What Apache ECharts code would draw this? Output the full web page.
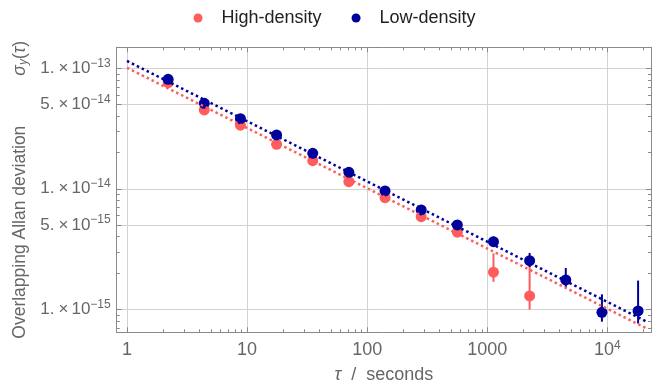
<!DOCTYPE html>
<html><head><meta charset="utf-8">
<script src="https://cdn.jsdelivr.net/npm/echarts@6/dist/echarts.min.js"></script>
<style>html,body{margin:0;padding:0;background:#fff}#c{width:652px;height:383px}</style>
</head><body><div id="c"></div>
<script>
// ---- data ----
const tau = [2.2, 4.4, 8.8, 17.6, 35.2, 70.4, 140.8, 281.6, 563, 1126, 2252, 4504, 9009, 18018];
const highDensity = [7.59e-14, 4.51e-14, 3.37e-14, 2.34e-14, 1.71e-14, 1.145e-14, 8.44e-15, 5.87e-15, 4.36e-15, 2.03e-15, 1.29e-15];
const lowDensity = [8.10e-14, 5.12e-14, 3.82e-14, 2.80e-14, 1.97e-14, 1.37e-14, 9.59e-15, 6.67e-15, 5.01e-15, 3.64e-15, 2.53e-15, 1.75e-15, 9.44e-16, 9.68e-16];
const highErrLow  = [null, null, null, null, null, null, null, null, null, 1.69e-15, 9.96e-16];
const highErrHigh = [null, null, null, null, null, null, null, null, null, 2.91e-15, 2.29e-15];
const lowErrLow  = [null, null, null, null, null, null, null, null, null, 3.29e-15, 2.24e-15, 1.53e-15, 7.89e-16, 7.62e-16];
const lowErrHigh = [null, null, null, null, null, null, null, null, null, 4.02e-15, 2.93e-15, 2.20e-15, 1.33e-15, 1.73e-15];
const fitTau = [1, 21000];
const highFit = [1.01e-13, 6.97e-16];
const lowFit = [1.15e-13, 7.94e-16];
// ---- ticks ----
const xMajor = [1, 10, 100, 1000, 10000];
const xMinor = [2,3,4,5,6,7,8,9,20,30,40,50,60,70,80,90,200,300,400,500,600,700,800,900,2000,3000,4000,5000,6000,7000,8000,9000,20000];
const yMajor = [1e-13, 5e-14, 1e-14, 5e-15, 1e-15];
const yMinor = [7e-16,8e-16,9e-16,2e-15,3e-15,4e-15,6e-15,7e-15,8e-15,9e-15,2e-14,3e-14,4e-14,6e-14,7e-14,8e-14,9e-14];

const RED = '#ff5c5c', BLUE = '#00009c';
const FRAME = '#8a8a8a', GRID = '#d2d2d2', LAB = '#666666';
const FONT = 'Liberation Sans, Arial, sans-serif';
const XMIN = 0.8208, XMAX = 23080, YMIN = 6.44e-16, YMAX = 1.493e-13;

function pairs(xs, ys) { return ys.map((v, i) => [xs[i], v]); }
function errData(xs, lo, hi) {
  const d = [];
  xs.forEach((t, i) => { if (lo[i] != null) d.push([t, lo[i], hi[i]]); });
  return d;
}
function errSeries(data, color, z) {
  return {
    type: 'custom', xAxisIndex: 0, yAxisIndex: 0, data: data, z: z, silent: true,
    encode: { x: 0, y: [1, 2] },
    renderItem: function (params, api) {
      const a = api.coord([api.value(0), api.value(1)]);
      const b = api.coord([api.value(0), api.value(2)]);
      return { type: 'line', shape: { x1: a[0], y1: a[1], x2: b[0], y2: b[1] }, style: { stroke: color, lineWidth: 2 } };
    }
  };
}
function xAx(pos, major, withLabel) {
  return {
    type: 'log', logBase: 10, min: XMIN, max: XMAX, position: pos, gridIndex: 0,
    axisLine: { show: major, lineStyle: { color: FRAME, width: 1 } },
    axisTick: { show: true, inside: true, length: major ? 5 : 3, customValues: major ? xMajor : xMinor, lineStyle: { color: FRAME } },
    axisLabel: withLabel ? {
      show: true, customValues: xMajor, margin: 7, color: LAB, fontFamily: FONT, fontSize: 18,
      formatter: function (v) { return v >= 10000 ? '{m|10}{e|' + Math.round(Math.log10(v)) + '}' : '{m|' + v + '}'; },
      rich: { m: { fontSize: 18, color: LAB, fontFamily: FONT, lineHeight: 22 }, e: { fontSize: 12, color: LAB, fontFamily: FONT, verticalAlign: 'top', lineHeight: 12 } }
    } : { show: false },
    splitLine: { show: withLabel, lineStyle: { color: GRID, width: 1 } },
    name: withLabel ? '{i|τ}{n|  /  seconds}' : '',
    nameLocation: 'middle', nameGap: 34,
    nameTextStyle: { color: LAB, fontFamily: FONT, fontSize: 18, rich: { i: { fontStyle: 'italic', fontSize: 18, color: LAB, fontFamily: FONT }, n: { fontSize: 18, color: LAB, fontFamily: FONT } } }
  };
}
function yAx(pos, major, withLabel) {
  return {
    type: 'log', logBase: 10, min: YMIN, max: YMAX, position: pos, gridIndex: 0,
    axisLine: { show: major, lineStyle: { color: FRAME, width: 1 } },
    axisTick: { show: true, inside: true, length: major ? 5 : 3, customValues: major ? yMajor : yMinor, lineStyle: { color: FRAME } },
    axisLabel: withLabel ? {
      show: true, customValues: yMajor, margin: 6, color: LAB, fontFamily: FONT,
      formatter: function (v) {
        const ex = Math.floor(Math.log10(v) + 1e-6);
        const m = Math.round(v / Math.pow(10, ex));
        return '{m|' + m + '.}{x|×}{m|10}{e|−' + (-ex) + '}';
      },
      rich: { m: { fontSize: 17, color: LAB, fontFamily: FONT, lineHeight: 22 },
              x: { fontSize: 17, color: LAB, fontFamily: FONT, lineHeight: 22, padding: [0, 3, 0, 4] },
              e: { fontSize: 12, color: LAB, fontFamily: FONT, verticalAlign: 'top', lineHeight: 12 } }
    } : { show: false },
    splitLine: { show: withLabel, lineStyle: { color: GRID, width: 1 } },
    name: withLabel ? 'Overlapping Allan deviation{g| }{i|σ}{s|y}{n|(}{i|τ}{n|)}' : '',
    nameLocation: 'middle', nameGap: 86,
    nameTextStyle: { color: LAB, fontFamily: FONT, fontSize: 17.5,
      rich: { g: { width: 50 }, i: { fontStyle: 'italic', fontSize: 17.5, color: LAB, fontFamily: FONT },
              s: { fontStyle: 'italic', fontSize: 12, color: LAB, fontFamily: FONT, verticalAlign: 'bottom' },
              n: { fontSize: 17.5, color: LAB, fontFamily: FONT } } }
  };
}

const chart = echarts.init(document.getElementById('c'), null, { renderer: 'canvas' });
chart.setOption({
  animation: false,
  backgroundColor: '#ffffff',
  textStyle: { fontFamily: FONT },
  grid: { left: 116.7, right: 1, top: 47.3, bottom: 50.7, outerBoundsMode: 'none', containLabel: false },
  legend: {
    data: ['High-density', 'Low-density'], top: 4, left: 188.5, icon: 'circle', itemWidth: 9, itemHeight: 9, itemGap: 30,
    textStyle: { fontSize: 18, color: '#222222', fontFamily: FONT, padding: [0, 0, 0, 14] }
  },
  xAxis: [xAx('bottom', true, true), xAx('bottom', false, false), xAx('top', true, false), xAx('top', false, false)],
  yAxis: [yAx('left', true, true), yAx('left', false, false), yAx('right', true, false), yAx('right', false, false)],
  series: [
    errSeries(errData(tau, highErrLow, highErrHigh), RED, 2),
    { name: 'High-density', type: 'scatter', xAxisIndex: 0, yAxisIndex: 0, symbolSize: 11, z: 3,
      itemStyle: { color: RED, opacity: 1 }, data: pairs(tau, highDensity) },
    errSeries(errData(tau, lowErrLow, lowErrHigh), BLUE, 4),
    { name: 'Low-density', type: 'scatter', xAxisIndex: 0, yAxisIndex: 0, symbolSize: 11, z: 5,
      itemStyle: { color: BLUE, opacity: 1 }, data: pairs(tau, lowDensity) },
    { name: 'fitHigh', type: 'line', xAxisIndex: 0, yAxisIndex: 0, showSymbol: false, symbol: 'none', z: 6, silent: true,
      lineStyle: { color: RED, width: 2.5, type: [2.5, 3] }, data: pairs(fitTau, highFit) },
    { name: 'fitLow', type: 'line', xAxisIndex: 0, yAxisIndex: 0, showSymbol: false, symbol: 'none', z: 7, silent: true,
      lineStyle: { color: BLUE, width: 2.5, type: [2.5, 3] }, data: pairs(fitTau, lowFit) }
  ]
});
</script></body></html>
